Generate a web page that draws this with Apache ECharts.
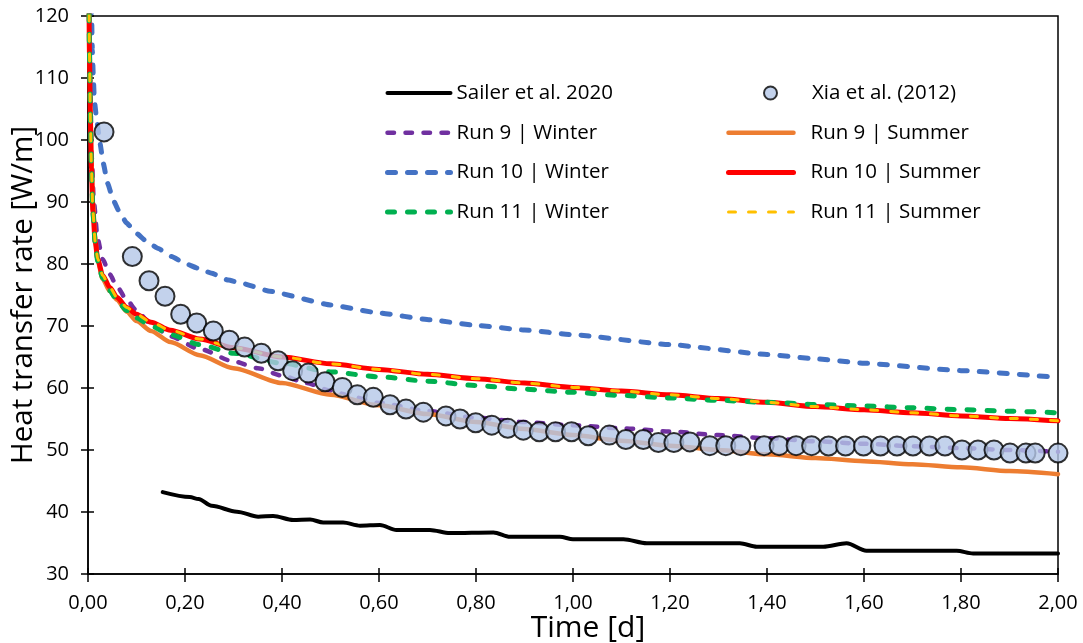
<!DOCTYPE html>
<html>
<head>
<meta charset="utf-8">
<script src="https://cdn.jsdelivr.net/npm/echarts@6/dist/echarts.min.js"></script>
<style>html,body{margin:0;padding:0;background:#fff}#c{width:1083px;height:643px}</style>
</head>
<body>
<div id="c"></div>
<script>
// ---- data (Time [d], Heat transfer rate [W/m]) ----
const xTicks = [0, 2, 0.2];
const yTicks = [30, 120, 10];

const sailer = [[0.154,43.2],[0.21,42.4],[0.228,42.1],[0.255,41.0],[0.307,40.05],[0.351,39.25],[0.382,39.35],[0.423,38.7],[0.458,38.8],[0.485,38.3],[0.526,38.3],[0.561,37.8],[0.602,37.9],[0.636,37.1],[0.705,37.1],[0.746,36.6],[0.836,36.7],[0.87,36.0],[0.973,36.0],[1.0,35.6],[1.104,35.6],[1.152,34.95],[1.344,34.95],[1.379,34.4],[1.516,34.4],[1.564,34.95],[1.605,33.75],[1.791,33.75],[1.825,33.3],[2.0,33.3]];

const xiaT = [0.033,0.0914,0.1258,0.1588,0.1911,0.2241,0.2584,0.2914,0.323,0.3573,0.3918,0.422,0.4543,0.4887,0.5244,0.5553,0.5883,0.6227,0.6557,0.6914,0.7381,0.767,0.7994,0.8325,0.8655,0.8975,0.9305,0.964,0.997,1.0315,1.075,1.109,1.145,1.176,1.208,1.241,1.282,1.315,1.346,1.394,1.425,1.46,1.492,1.527,1.562,1.599,1.634,1.668,1.701,1.735,1.767,1.802,1.835,1.868,1.901,1.934,1.953,2.0];
const xiaV = [101.3,81.2,77.3,74.8,71.9,70.5,69.2,67.7,66.6,65.6,64.4,62.8,62.4,61.0,60.1,58.9,58.5,57.3,56.6,56.1,55.5,55.0,54.4,54.0,53.5,53.2,52.95,52.95,52.95,52.3,52.4,51.7,51.7,51.2,51.2,51.3,50.7,50.7,50.7,50.7,50.7,50.7,50.7,50.65,50.65,50.65,50.65,50.65,50.65,50.65,50.65,50.0,50.0,50.0,49.5,49.5,49.5,49.5];

const run9Winter = [[0.0015,130],[0.003,118],[0.005,107],[0.008,97],[0.012,90],[0.02,84],[0.03,80.8],[0.045,78.3],[0.06,76.3],[0.08,74.2],[0.1,72.5],[0.13,70.3],[0.17,68.3],[0.23,66.3],[0.3,64.3],[0.35,63.2],[0.4,62.0],[0.45,60.8],[0.5,59.6],[0.55,58.5],[0.6,57.6],[0.7,56.3],[0.8,55.2],[0.9,54.5],[1.0,54.0],[1.1,53.5],[1.2,53.0],[1.3,52.4],[1.4,51.9],[1.5,51.4],[1.6,51.0],[1.7,50.6],[1.8,50.3],[1.9,50.0],[2.0,49.7]];

const run9Summer = [[0.0015,130],[0.003,116],[0.005,105],[0.007,97],[0.01,90],[0.015,84],[0.02,80.5],[0.03,77.6],[0.045,75.6],[0.06,74.2],[0.08,72.3],[0.1,70.8],[0.13,69.2],[0.17,67.4],[0.23,65.3],[0.3,63.2],[0.4,60.8],[0.5,58.9],[0.6,57.2],[0.7,55.8],[0.8,54.5],[0.9,53.4],[1.0,52.4],[1.1,51.5],[1.2,50.7],[1.3,50.0],[1.4,49.3],[1.5,48.7],[1.6,48.2],[1.7,47.7],[1.8,47.2],[1.9,46.6],[2.0,46.1]];

const run10Winter = [[0.005,125],[0.0076,119.4],[0.0089,114.5],[0.011,110.2],[0.013,106.5],[0.018,103.2],[0.0247,99.5],[0.0316,96.2],[0.0405,93.0],[0.0522,90.3],[0.0625,88.7],[0.0797,86.6],[0.1,84.95],[0.121,83.6],[0.145,82.5],[0.1725,81.2],[0.2,80.1],[0.227,79.3],[0.255,78.5],[0.289,77.4],[0.317,76.9],[0.375,75.6],[0.5,73.4],[0.6,72.1],[0.705,71.0],[0.8,70.1],[0.9,69.35],[1.0,68.6],[1.2,67.0],[1.4,65.4],[1.5,64.7],[1.6,64.0],[1.8,62.8],[2.0,61.7]];

const run10Summer = [[0.0015,130],[0.003,114],[0.005,103],[0.007,95.5],[0.01,88.5],[0.015,83.5],[0.02,80.8],[0.03,78.2],[0.045,76.2],[0.06,74.6],[0.08,73.0],[0.1,71.9],[0.13,70.6],[0.17,69.3],[0.23,67.9],[0.3,66.5],[0.4,65.0],[0.5,63.9],[0.6,63.0],[0.7,62.2],[0.8,61.5],[0.9,60.8],[1.0,60.1],[1.1,59.5],[1.2,58.9],[1.3,58.3],[1.4,57.7],[1.5,57.0],[1.6,56.5],[1.7,56.0],[1.8,55.5],[1.9,55.1],[2.0,54.7]];

const run11Winter = [[0.0015,130],[0.003,114],[0.005,103],[0.007,95.5],[0.01,88.3],[0.015,83.2],[0.02,80.5],[0.03,77.8],[0.045,75.7],[0.06,74.1],[0.08,72.5],[0.1,71.3],[0.13,70.0],[0.17,68.6],[0.23,67.0],[0.3,65.6],[0.4,64.0],[0.5,62.6],[0.6,61.8],[0.7,61.1],[0.8,60.4],[0.9,59.8],[1.0,59.3],[1.1,58.8],[1.2,58.4],[1.3,58.0],[1.4,57.7],[1.5,57.35],[1.6,57.1],[1.7,56.8],[1.8,56.5],[1.9,56.25],[2.0,56.0]];

const run11Summer = [[0.0015,130],[0.003,114],[0.005,103],[0.007,95.5],[0.01,88.5],[0.015,83.5],[0.02,80.8],[0.03,78.2],[0.045,76.2],[0.06,74.6],[0.08,73.0],[0.1,71.9],[0.13,70.6],[0.17,69.3],[0.23,67.9],[0.3,66.5],[0.4,65.0],[0.5,63.9],[0.6,63.0],[0.7,62.2],[0.8,61.5],[0.9,60.8],[1.0,60.1],[1.1,59.5],[1.2,58.9],[1.3,58.3],[1.4,57.7],[1.5,57.0],[1.6,56.5],[1.7,56.0],[1.8,55.5],[1.9,55.1],[2.0,54.7]];

const names = ['Sailer et al. 2020','Xia et al. (2012)','Run 9 | Winter','Run 9 | Summer','Run 10 | Winter','Run 10 | Summer','Run 11 | Winter','Run 11 | Summer'];

// ---- chart ----
const FONT = 'Open Sans';
const chart = echarts.init(document.getElementById('c'), null, {renderer: 'canvas'});
const fmt = v => v.toFixed(2).replace('.', ',');

function lineSeries(name, data, color, width, dash, z, smooth) {
  return {
    name, type: 'line', data, z,
    showSymbol: false, symbol: 'none',
    smooth: smooth === undefined ? 0.25 : smooth,
    smoothMonotone: 'x',
    lineStyle: {color, width, type: dash || 'solid', cap: 'round', join: 'round'},
    itemStyle: {color},
    emphasis: {disabled: true}
  };
}

const legendText = {fontFamily: FONT, fontSize: 20.5, color: '#000', lineHeight: 24};
const itemGap = 15.7;
const lineLegendStyle = {width: 'inherit', type: 'inherit', cap: 'round'};
const hiddenSymbol = {color: 'rgba(0,0,0,0)', borderWidth: 0, opacity: 0};

const option = {
  animation: false,
  backgroundColor: '#fff',
  grid: {left: 88, right: 25, top: 16, bottom: 69, containLabel: false, outerBoundsMode: 'none',
         show: true, borderColor: '#000', borderWidth: 1.5, backgroundColor: 'transparent'},
  legend: [
    {data: [names[0], names[2], names[4], names[6]], orient: 'vertical', left: 380, top: 76,
     itemWidth: 63, itemHeight: 14, itemGap, lineStyle: lineLegendStyle, itemStyle: hiddenSymbol,
     textStyle: Object.assign({padding: [0,0,0,1]}, legendText)},
    {data: [names[1]], orient: 'vertical', left: 758, top: 76,
     itemWidth: 65, itemHeight: 13, itemGap, textStyle: Object.assign({padding: [0,0,0,4]}, legendText)},
    {data: [names[3], names[5], names[7]], orient: 'vertical', left: 721, top: 76 + 24 + itemGap,
     itemWidth: 65, itemHeight: 14, itemGap, lineStyle: lineLegendStyle, itemStyle: hiddenSymbol,
     textStyle: Object.assign({padding: [0,0,0,12]}, legendText)}
  ],
  xAxis: [{
    type: 'value', min: xTicks[0], max: xTicks[1], interval: xTicks[2],
    name: 'Time [d]', nameLocation: 'middle', nameGap: 39, nameMoveOverlap: false,
    nameTextStyle: {fontFamily: FONT, fontSize: 30, color: '#000', padding: [0,0,0,30]},
    axisLine: {show: true, onZero: false, lineStyle: {color: '#000', width: 1.5}},
    axisTick: {show: true, length: 8, lineStyle: {color: '#000', width: 1.5}},
    axisLabel: {formatter: fmt, fontFamily: FONT, fontSize: 20, color: '#000', margin: 19},
    splitLine: {show: false}
  }, {
    type: 'value', min: xTicks[0], max: xTicks[1], interval: xTicks[2], position: 'bottom',
    axisLine: {show: false}, axisLabel: {show: false}, splitLine: {show: false},
    axisTick: {show: true, inside: true, length: 6, lineStyle: {color: '#000', width: 1.5}}
  }],
  yAxis: [{
    type: 'value', min: yTicks[0], max: yTicks[1], interval: yTicks[2],
    name: 'Heat transfer rate [W/m]', nameLocation: 'middle', nameGap: 49, nameMoveOverlap: false,
    nameTextStyle: {fontFamily: FONT, fontSize: 29.5, color: '#000'},
    axisLine: {show: true, onZero: false, lineStyle: {color: '#000', width: 1.5}},
    axisTick: {show: true, length: 7, lineStyle: {color: '#000', width: 1.5}},
    axisLabel: {fontFamily: FONT, fontSize: 20, color: '#000', margin: 19},
    splitLine: {show: false}
  }, {
    type: 'value', min: yTicks[0], max: yTicks[1], interval: yTicks[2], position: 'left',
    axisLine: {show: false}, axisLabel: {show: false}, splitLine: {show: false},
    axisTick: {show: true, inside: true, length: 6, lineStyle: {color: '#000', width: 1.5}}
  }],
  series: [
    lineSeries(names[0], sailer, '#000000', 4, 'solid', 2, 0.3),
    {
      name: names[1], type: 'scatter', z: 20,
      data: xiaT.map((t, i) => [t, xiaV[i]]),
      symbol: 'circle', symbolSize: 19,
      itemStyle: {color: '#B4C7E7', borderColor: '#000', borderWidth: 2},
      emphasis: {disabled: true}
    },
    lineSeries(names[2], run9Winter, '#7030A0', 4.5, [6.5, 11.5], 3),
    lineSeries(names[3], run9Summer, '#ED7D31', 4.5, 'solid', 4),
    lineSeries(names[4], run10Winter, '#4472C4', 5, [8, 12], 5, 0.12),
    lineSeries(names[5], run10Summer, '#FF0000', 5, 'solid', 6),
    lineSeries(names[6], run11Winter, '#00B050', 5, [7, 13], 7),
    lineSeries(names[7], run11Summer, '#FFC000', 3, [7, 13], 8)
  ]
};
chart.setOption(option);
</script>
</body>
</html>
